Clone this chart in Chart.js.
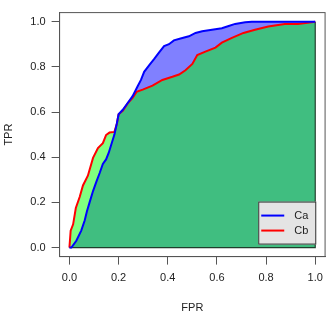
<!DOCTYPE html>
<html>
<head>
<meta charset="utf-8">
<script src="https://cdn.jsdelivr.net/npm/chart.js@4/dist/chart.umd.min.js"></script>
<style>
  html, body { margin: 0; padding: 0; background: #fff; }
  #wrap { width: 330px; height: 327px; }
</style>
</head>
<body>
<div id="wrap"><canvas id="roc" width="330" height="327"></canvas></div>
<script>
// Curvas ROC
const caFpr = [0, 0.008, 0.028, 0.048, 0.062, 0.071, 0.082, 0.096, 0.109, 0.123, 0.136, 0.149, 0.16, 0.17, 0.183, 0.193, 0.2, 0.217, 0.237, 0.257, 0.277, 0.291, 0.304, 0.324, 0.345, 0.365, 0.385, 0.405, 0.425, 0.452, 0.486, 0.513, 0.54, 0.58, 0.62, 0.648, 0.674, 0.715, 0.742, 1];
const caTpr = [0, 0, 0.03, 0.075, 0.12, 0.16, 0.2, 0.25, 0.29, 0.33, 0.37, 0.39, 0.42, 0.455, 0.5, 0.55, 0.59, 0.61, 0.64, 0.67, 0.713, 0.742, 0.778, 0.806, 0.835, 0.864, 0.892, 0.9, 0.917, 0.925, 0.935, 0.95, 0.957, 0.964, 0.971, 0.981, 0.99, 0.997, 1, 1];

const cbFpr = [0, 0.005, 0.015, 0.026, 0.042, 0.055, 0.075, 0.096, 0.116, 0.136, 0.149, 0.163, 0.183, 0.193, 0.2, 0.217, 0.237, 0.257, 0.273, 0.298, 0.338, 0.378, 0.419, 0.446, 0.472, 0.5, 0.52, 0.553, 0.594, 0.62, 0.661, 0.708, 0.755, 0.809, 0.876, 0.93, 1];
const cbTpr = [0, 0.075, 0.103, 0.175, 0.225, 0.275, 0.318, 0.397, 0.44, 0.462, 0.498, 0.509, 0.512, 0.548, 0.59, 0.605, 0.638, 0.663, 0.689, 0.699, 0.717, 0.742, 0.756, 0.766, 0.785, 0.813, 0.852, 0.867, 0.885, 0.907, 0.928, 0.95, 0.964, 0.978, 0.989, 0.99, 1];

// Cierre del polígono (borde inferior y derecho)
const frameFpr = [1, 1, 0];
const frameTpr = [1, 0, 0];

const xTicks = [0, 0.2, 0.4, 0.6, 0.8, 1.0];
const yTicks = [0, 0.2, 0.4, 0.6, 0.8, 1.0];
const seriesNames = ['Ca', 'Cb'];

const toPoints = (xs, ys) => xs.map((x, i) => ({ x: x, y: ys[i] }));

const FONT = { family: '"Liberation Sans", Arial, sans-serif', size: 11 };
const AXIS_COLOR = '#555';

// Marco alrededor del área del gráfico
const boxPlugin = {
  id: 'box',
  afterDraw(chart) {
    const { ctx, chartArea: a } = chart;
    ctx.save();
    ctx.strokeStyle = AXIS_COLOR;
    ctx.lineWidth = 1;
    ctx.strokeRect(a.left, a.top, a.right - a.left, a.bottom - a.top);
    ctx.restore();
  }
};

// Leyenda dentro del gráfico, abajo a la derecha
const legendPlugin = {
  id: 'insetLegend',
  afterDraw(chart) {
    const { ctx } = chart;
    const xs = chart.scales.x, ys = chart.scales.y;
    const right = xs.getPixelForValue(1) + 1;
    const bottom = ys.getPixelForValue(0) - 3;
    const w = 58, h = 43;
    const left = right - w, top = bottom - h;
    ctx.save();
    ctx.fillStyle = '#e4e4e4';
    ctx.fillRect(left, top, w, h);
    ctx.strokeStyle = '#333';
    ctx.lineWidth = 1;
    ctx.strokeRect(left + 0.5, top + 0.5, w - 1, h - 1);
    ctx.font = `${FONT.size}px ${FONT.family}`;
    ctx.textBaseline = 'middle';
    ctx.textAlign = 'left';
    seriesNames.forEach((name, i) => {
      const ds = chart.data.datasets[i];
      const yy = top + 14 + i * 15;
      ctx.strokeStyle = ds.borderColor;
      ctx.lineWidth = 2;
      ctx.beginPath();
      ctx.moveTo(left + 3, yy);
      ctx.lineTo(left + 26, yy);
      ctx.stroke();
      ctx.fillStyle = '#222';
      ctx.fillText(name, left + 36, yy);
    });
    ctx.restore();
  }
};

const canvas = document.getElementById('roc');
new Chart(canvas, {
  type: 'line',
  data: {
    datasets: [
      {
        label: seriesNames[0],
        data: toPoints(caFpr, caTpr),
        borderColor: '#0000ff',
        borderWidth: 2,
        pointRadius: 0,
        tension: 0,
        fill: { target: 1, above: 'rgb(128,128,255)', below: 'rgb(128,255,128)' }
      },
      {
        label: seriesNames[1],
        data: toPoints(cbFpr, cbTpr),
        borderColor: '#ff0000',
        borderWidth: 2,
        pointRadius: 0,
        tension: 0,
        fill: { target: 'origin', above: 'rgb(64,190,128)', below: 'rgb(64,190,128)' }
      },
      {
        label: 'frame',
        data: toPoints(frameFpr, frameTpr),
        borderColor: '#1f3f2c',
        borderWidth: 1.2,
        pointRadius: 0,
        tension: 0,
        fill: false
      }
    ]
  },
  options: {
    responsive: false,
    animation: false,
    layout: { padding: { top: 5.5, right: 3, bottom: 0, left: 0 } },
    plugins: {
      legend: { display: false },
      tooltip: { enabled: false },
      filler: { drawTime: 'beforeDatasetsDraw' }
    },
    scales: {
      x: {
        type: 'linear',
        min: -0.04,
        max: 1.04,
        afterBuildTicks: (scale) => { scale.ticks = xTicks.map(v => ({ value: v })); },
        afterFit: (scale) => { scale.height = 70.4; },
        ticks: {
          color: '#222',
          font: FONT,
          padding: 7,
          maxRotation: 0,
          callback: (v) => Number(v).toFixed(1)
        },
        grid: { display: true, drawOnChartArea: false, drawTicks: true, tickLength: 8, color: AXIS_COLOR },
        border: { display: true, color: AXIS_COLOR },
        title: { display: true, text: 'FPR', color: '#222', font: FONT, padding: { top: 12, bottom: 12 } }
      },
      y: {
        type: 'linear',
        min: -0.04,
        max: 1.04,
        afterBuildTicks: (scale) => { scale.ticks = yTicks.map(v => ({ value: v })); },
        afterFit: (scale) => { scale.width = 59.6; },
        ticks: {
          color: '#222',
          font: FONT,
          padding: 6,
          callback: (v) => Number(v).toFixed(1)
        },
        grid: { display: true, drawOnChartArea: false, drawTicks: true, tickLength: 8, color: AXIS_COLOR },
        border: { display: true, color: AXIS_COLOR },
        title: { display: true, text: 'TPR', color: '#222', font: FONT, padding: { top: 2, bottom: 2 } }
      }
    }
  },
  plugins: [boxPlugin, legendPlugin]
});
</script>
</body>
</html>
